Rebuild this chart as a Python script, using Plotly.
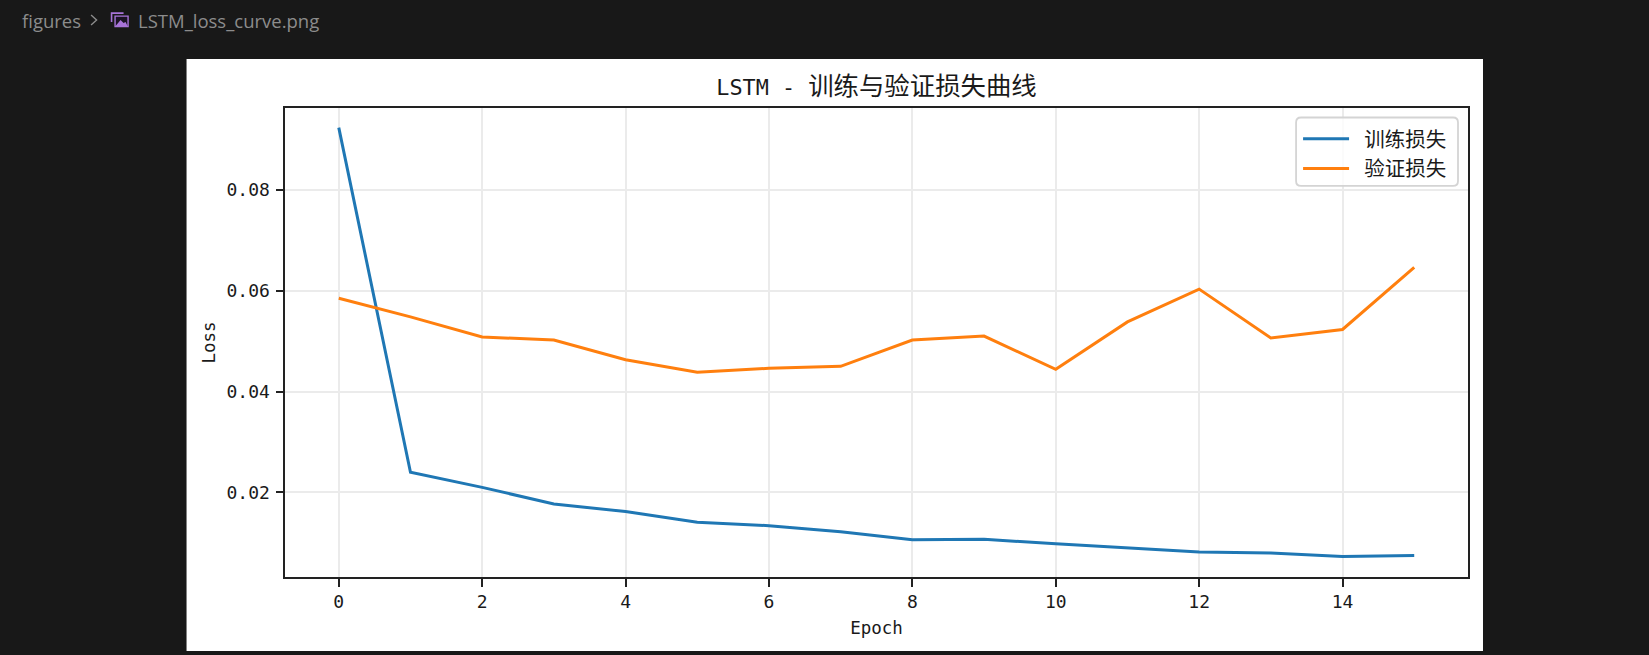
import plotly.graph_objects as go

epochs = list(range(16))
train_loss = [0.0923, 0.0240, 0.0210, 0.0177, 0.0162, 0.0141, 0.0134, 0.0122,
              0.0106, 0.0107, 0.0098, 0.0090, 0.0082, 0.0080, 0.0073, 0.0075]
val_loss = [0.0585, 0.0548, 0.0508, 0.0502, 0.0463, 0.0438, 0.0446, 0.0450,
            0.0502, 0.0510, 0.0444, 0.0538, 0.0603, 0.0506, 0.0523, 0.0646]
x_ticks = [0, 2, 4, 6, 8, 10, 12, 14]
y_ticks = [0.02, 0.04, 0.06, 0.08]
y_tick_labels = ["0.02", "0.04", "0.06", "0.08"]
series_names = ["\u2002训练损失", "\u2002验证损失"]
title_latin = "LSTM - "
title_cjk = "训练与验证损失曲线"

W, H = 1649, 655
L, R, T, B = 284.5, 1468.0, 108.0, 577.5
CJK = "'Noto Sans CJK SC', sans-serif"
MONO = "'DejaVu Sans Mono', 'Noto Sans CJK SC', monospace"
UI = "'Open Sans', 'Noto Sans', sans-serif"
INK = "#1a1a1a"

def X(p):
    return (p - L) / (R - L)

def Y(p):
    return (B - p) / (B - T)

def rect(x0, y0, x1, y1, fill, line=None, width=0, layer="below"):
    return dict(type="rect", xref="paper", yref="paper", x0=X(x0), x1=X(x1), y0=Y(y0), y1=Y(y1),
                fillcolor=fill, line=dict(color=line or fill, width=width), layer=layer)

def rounded(x0, y0, x1, y1, r):
    a, b, c, d = X(x0), X(x1), Y(y0), Y(y1)
    rx, ry = r / (R - L), r / (B - T)
    return (f"M {a+rx} {c} L {b-rx} {c} Q {b} {c} {b} {c-ry} L {b} {d+ry} Q {b} {d} {b-rx} {d} "
            f"L {a+rx} {d} Q {a} {d} {a} {d+ry} L {a} {c-ry} Q {a} {c} {a+rx} {c} Z")

def poly(points):
    return "M " + " L ".join(f"{X(a)} {Y(b)}" for a, b in points)

shapes = [
    rect(186, 59, 1483, 651.5, "#ffffff"),
    dict(type="path", xref="paper", yref="paper", path=poly([(90.5, 15), (96, 20), (90.5, 25)]),
         line=dict(color="#8c8c8c", width=1.4), layer="above"),
    # image icon in the breadcrumb
    dict(type="path", xref="paper", yref="paper", path=poly([(111, 22), (111, 13), (123, 13)]),
         line=dict(color="#a874d8", width=1.6), layer="above"),
    rect(114.5, 16, 127.5, 26.5, "#1b1324", "#a874d8", 1.4, "above"),
    dict(type="path", xref="paper", yref="paper", path=poly([(115, 26), (120, 20), (123, 23), (125, 22), (127, 26)]) + " Z",
         fillcolor="#a874d8", line=dict(width=0), layer="above"),
    # legend frame
    dict(type="path", xref="paper", yref="paper", path=rounded(1296, 117.5, 1458, 186, 5),
         fillcolor="rgba(255,255,255,0.8)", line=dict(color="#d4d4d4", width=1.8), layer="above"),
]

annotations = [
    dict(text="figures", x=X(19), y=Y(20), xref="paper", yref="paper", xanchor="left", yanchor="middle",
         showarrow=False, font=dict(family=UI, size=18.5, color="#8c8c8c")),
    dict(text="LSTM_loss_curve.png", x=X(135), y=Y(20), xref="paper", yref="paper", xanchor="left", yanchor="middle",
         showarrow=False, font=dict(family=UI, size=18.5, color="#8c8c8c")),
]

fig = go.Figure()
fig.add_trace(go.Scatter(x=epochs, y=train_loss, mode="lines", name=series_names[0],
                         line=dict(color="#1f77b4", width=3)))
fig.add_trace(go.Scatter(x=epochs, y=val_loss, mode="lines", name=series_names[1],
                         line=dict(color="#ff7f0e", width=3)))

axis_common = dict(showline=True, linecolor="#222222", linewidth=2, mirror=True,
                   showgrid=True, gridcolor="#ebebeb", gridwidth=1.7, zeroline=False,
                   ticks="outside", ticklen=7.5, tickwidth=1.8, tickcolor="#222222",
                   tickfont=dict(family=MONO, size=18, color=INK))

fig.update_layout(
    width=W, height=H, autosize=False,
    margin=dict(l=L, r=W - R, t=T, b=H - B, pad=0),
    paper_bgcolor="#181818", plot_bgcolor="#ffffff",
    font=dict(family=CJK, color=INK),
    title=dict(text=f'<span style="font-family:DejaVu Sans Mono;font-size:21.8px">{title_latin}</span>{title_cjk}',
               x=0.5, xref="paper", xanchor="center", y=1 - 86 / H, yref="container",
               yanchor="middle", font=dict(family=CJK, size=25.4, color=INK)),
    xaxis=dict(range=[-0.75, 15.75], tickmode="array", tickvals=x_ticks, ticktext=[str(v) for v in x_ticks],
               title=dict(text="Epoch", standoff=11, font=dict(family=MONO, size=17.5, color=INK)), **axis_common),
    yaxis=dict(range=[0.00323, 0.0962], tickmode="array", tickvals=y_ticks, ticktext=y_tick_labels,
               ticklabelstandoff=2,
               title=dict(text="Loss", standoff=6, font=dict(family=MONO, size=17.5, color=INK)), **axis_common),
    legend=dict(x=X(1298), y=Y(119), xanchor="left", yanchor="top", bgcolor="rgba(0,0,0,0)", borderwidth=0,
                itemwidth=46, font=dict(family=CJK, size=20.5, color=INK), traceorder="normal"),
    shapes=shapes,
    annotations=annotations,
)

fig.write_html("out.html", config={"displayModeBar": False}, post_script=(
    "document.body.style.margin='0';document.body.style.background='#181818';"
    "document.documentElement.style.overflow='hidden';"
))
